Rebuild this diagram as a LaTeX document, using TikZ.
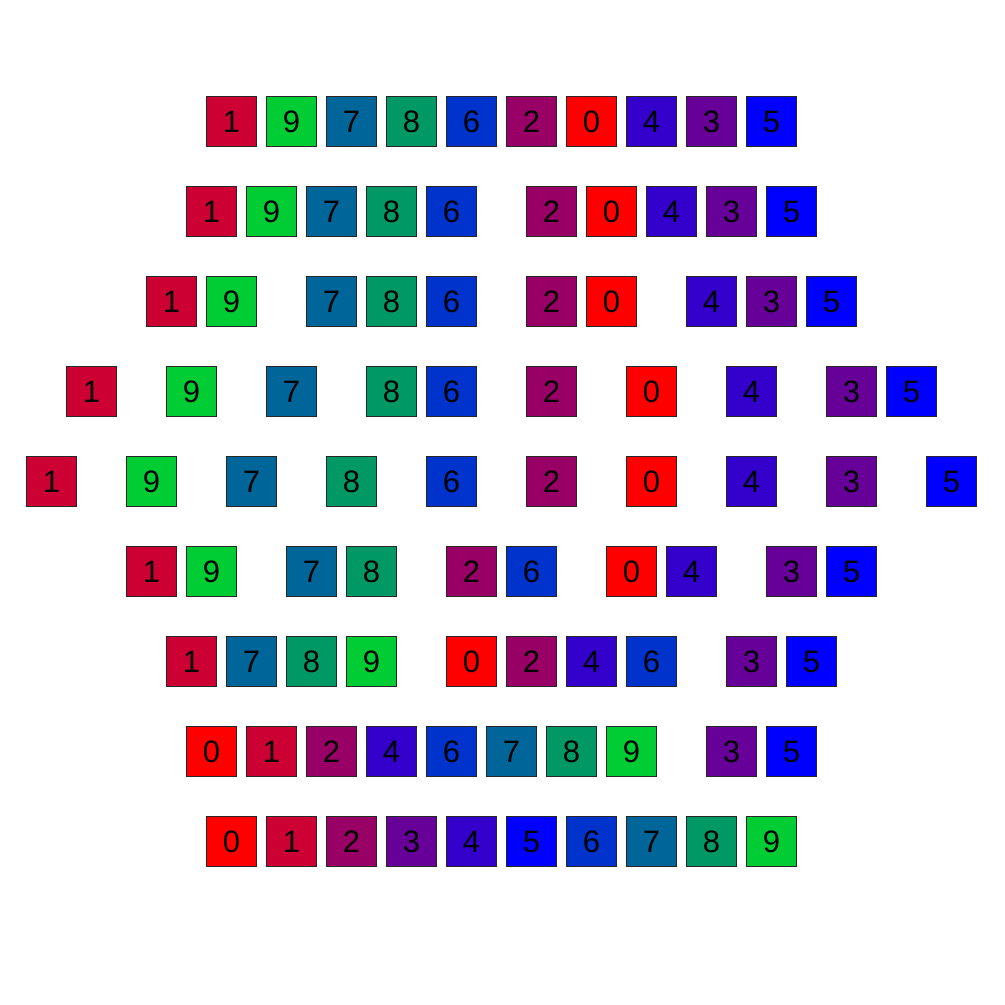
\documentclass[tikz,border=0pt]{standalone}
\usepackage{fontspec}
\setmainfont{Liberation Sans}
\definecolor{c0}{HTML}{FF0000}
\definecolor{c1}{HTML}{CC0033}
\definecolor{c2}{HTML}{990066}
\definecolor{c3}{HTML}{660099}
\definecolor{c4}{HTML}{3300CC}
\definecolor{c5}{HTML}{0000FF}
\definecolor{c6}{HTML}{0033CC}
\definecolor{c7}{HTML}{006699}
\definecolor{c8}{HTML}{009966}
\definecolor{c9}{HTML}{00CC33}
\begin{document}
\begin{tikzpicture}[x=1pt,y=-1pt,
  cell/.style={draw=black!85,line width=0.9pt,minimum size=50pt,inner sep=0pt,
    font=\fontsize{31}{36}\selectfont,text=black,anchor=center}]
\useasboundingbox (0,0) rectangle (1005,1005);
\foreach \row/\y/\list in {
  1/121.5/{207/1,267/9,327/7,387/8,447/6,507/2,567/0,627/4,687/3,747/5},
  2/211.5/{187/1,247/9,307/7,367/8,427/6,527/2,587/0,647/4,707/3,767/5},
  3/301.5/{147/1,207/9,307/7,367/8,427/6,527/2,587/0,687/4,747/3,807/5},
  4/391.5/{67/1,167/9,267/7,367/8,427/6,527/2,627/0,727/4,827/3,887/5},
  5/481.5/{27/1,127/9,227/7,327/8,427/6,527/2,627/0,727/4,827/3,927/5},
  6/571.5/{127/1,187/9,287/7,347/8,447/2,507/6,607/0,667/4,767/3,827/5},
  7/661.5/{167/1,227/7,287/8,347/9,447/0,507/2,567/4,627/6,727/3,787/5},
  8/751.5/{187/0,247/1,307/2,367/4,427/6,487/7,547/8,607/9,707/3,767/5},
  9/841.5/{207/0,267/1,327/2,387/3,447/4,507/5,567/6,627/7,687/8,747/9}}{
  \foreach \x/\d [count=\i] in \list {
    \node[cell,fill=c\d] (r\row-\i) at (\x+24.5,\y) {\d};
  }
}
\end{tikzpicture}
\end{document}
